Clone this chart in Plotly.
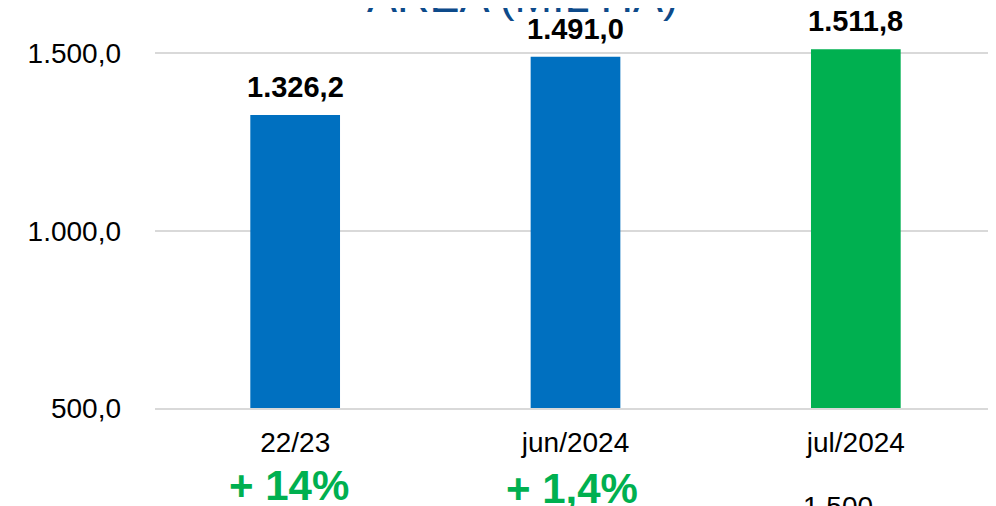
import plotly.graph_objects as go

categories = ["22/23", "jun/2024", "jul/2024"]
values = [1326.2, 1491.0, 1511.8]
bar_colors = ["#0070C0", "#0070C0", "#00B050"]
value_labels = ["1.326,2", "1.491,0", "1.511,8"]
change_labels = ["+ 14%", "+ 1,4%"]
bottom_note = "1.500"
title_text = "ÁREA (MIL HA)"
y_ticks = [500, 1000, 1500]
y_tick_labels = ["500,0", "1.000,0", "1.500,0"]

FONT = "Arial, 'Liberation Sans', sans-serif"

fig = go.Figure()
fig.add_trace(go.Bar(
    x=categories, y=values, marker=dict(color=bar_colors, line=dict(width=0)),
    width=0.32, showlegend=False, hoverinfo="skip",
))

annotations = []
for c, v, t in zip(categories, values, value_labels):
    annotations.append(dict(x=c, y=v, xref="x", yref="y", text=t, showarrow=False,
                            yanchor="bottom", yshift=10,
                            font=dict(family=FONT, size=29, color="#000000", weight="bold")))
shifts = [-6, -4]
yshifts = [-77, -80]
for c, t, xs, ys in zip(categories[:2], change_labels, shifts, yshifts):
    annotations.append(dict(x=c, y=0, xref="x", yref="paper", text=t, showarrow=False,
                            yanchor="middle", xshift=xs, yshift=ys,
                            font=dict(family=FONT, size=42, color="#00B050", weight="bold")))
annotations.append(dict(x=categories[2], y=0, xref="x", yref="paper", text=bottom_note,
                        showarrow=False, yanchor="middle", xshift=-18, yshift=-98,
                        font=dict(family=FONT, size=28, color="#000000")))
annotations.append(dict(x=(522 - 155) / 841, y=1, xref="paper", yref="paper", text=title_text,
                        showarrow=False, yanchor="bottom", yshift=-6,
                        font=dict(family=FONT, size=45, color="#0D4A8A")))

fig.update_layout(
    width=996, height=506,
    margin=dict(l=147, r=8, t=10, b=106, autoexpand=False),
    paper_bgcolor="white", plot_bgcolor="white",
    separators=",.",
    annotations=annotations,
    xaxis=dict(range=[-0.5, 2.5], showgrid=False, showline=True, linecolor="#D9D9D9",
               linewidth=1.5, ticks="", ticklabelstandoff=9,
               tickfont=dict(family=FONT, size=28, color="#000000")),
    yaxis=dict(range=[500, 1600], tickvals=y_ticks, ticktext=y_tick_labels,
               showgrid=True, gridcolor="#D9D9D9", gridwidth=1.5, zeroline=False,
               showline=False, ticks="", ticklabelstandoff=33,
               tickfont=dict(family=FONT, size=28, color="#000000")),
)

fig.write_html("out.html")
